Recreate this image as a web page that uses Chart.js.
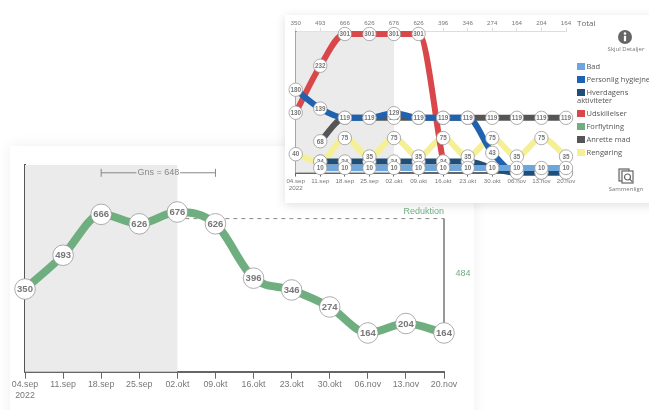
<!DOCTYPE html>
<html>
<head>
<meta charset="utf-8">
<script src="https://cdn.jsdelivr.net/npm/chart.js@4"></script>
<style>
  html, body { margin: 0; background: #fff; overflow: hidden; }
  body { width: 649px; height: 410px; position: relative; font-family: "Open Sans", sans-serif; color: #555; }
  .card { position: absolute; background: #fff; }
  #mainCard { left: 10px; top: 146px; width: 464px; height: 290px; box-shadow: 0 0 14px rgba(0,0,0,.07); }
  #detailCard { left: 285px; top: 15px; width: 380px; height: 188px; box-shadow: 0 2px 10px rgba(0,0,0,.13); }
  .wrap { position: absolute; }
  #mainWrap { left: 0; top: 130px; width: 480px; height: 280px; }
  #detailWrap { left: 285px; top: 10px; width: 305px; height: 195px; }
  .lg { position: absolute; left: 577px; font-size: 7.5px; line-height: 8px; white-space: nowrap; }
  .lg i { display: inline-block; width: 7.5px; height: 7.5px; margin-right: 2px; vertical-align: -1px; }
  .cap { position: absolute; font-size: 6px; text-align: center; width: 60px; left: 596px; color: #777; }
  #totalTxt { position: absolute; left: 577px; top: 17px; font-size: 8px; color: #666; }
  svg { position: absolute; }
</style>
</head>
<body>
<div class="card" id="mainCard"></div>
<div class="card" id="detailCard"></div>
<div class="wrap" id="mainWrap"><canvas id="mainChart"></canvas></div>
<div class="wrap" id="detailWrap"><canvas id="detailChart"></canvas></div>
<div id="totalTxt">Total</div>
<svg style="left:617px;top:29px" width="16" height="16"><circle cx="8" cy="8" r="7" fill="#666"/><circle cx="8" cy="4.5" r="1.3" fill="#fff"/><rect x="6.9" y="6.8" width="2.2" height="5.4" fill="#fff"/></svg>
<div class="cap" style="top:45px">Skjul Detaljer</div>
<svg style="left:618px;top:168px" width="17" height="17" fill="none" stroke="#666" stroke-width="1.2"><rect x="1" y="1" width="10" height="12" fill="#eee"/><rect x="4" y="3" width="11" height="12" fill="#fff"/><circle cx="9.5" cy="9" r="3"/><path d="M11.7 11.2l2.5 2.5"/></svg>
<div class="cap" style="top:185px">Sammenlign</div>
<div id="legend"></div>

<script>
const uger = ['04.sep','11.sep','18.sep','25.sep','02.okt','09.okt','16.okt','23.okt','30.okt','06.nov','13.nov','20.nov'];
const total = [350,493,666,626,676,626,396,346,274,164,204,164];
const gnsLinje = [null,null,null,null,648,648,648,648,648,648,648,648];

const bad = [null,10,10,10,10,10,10,10,10,10,10,10];
const hverdagens = [null,24,24,24,24,24,24,24,10,0,0,0];
const hygiejne = [180,139,119,119,129,119,119,119,43,0,0,0];
const udskillelser = [130,232,301,301,301,301,24,null,null,null,null,null];
const anrette = [null,68,119,119,119,119,119,119,119,119,119,119];
const rengoring = [40,24,75,35,75,35,75,35,75,35,75,35];

const legendNavne = ['Bad','Personlig hygiejne','Hverdagens aktiviteter','Udskillelser','Forflytning','Anrette mad','Rengøring'];
const legendFarver = ['#6ca6dc','#1f62b0','#1f4e79','#d9474a','#6faf7f','#555555','#f5f095'];
const legendTop = [62,75,88,109,122,135,148];

const font = '"Liberation Sans", Arial, sans-serif';
const tekstFarve = '#777';

// legend i html, den skal ombrydes som i originalen
legendNavne.forEach((n, i) => {
  const d = document.createElement('div');
  d.className = 'lg';
  d.style.top = legendTop[i] + 'px';
  const dele = n === 'Hverdagens aktiviteter' ? 'Hverdagens<br>aktiviteter' : n;
  d.innerHTML = '<i style="background:' + legendFarver[i] + '"></i>' + dele;
  legend.appendChild(d);
});

// graat felt for baseline perioden
const feltPlugin = {
  id: 'felt',
  beforeDatasetsDraw(chart) {
    const a = chart.chartArea, x = chart.scales.x, c = chart.ctx;
    c.save();
    c.fillStyle = '#ebebeb';
    c.fillRect(a.left, a.top, x.getPixelForValue(4) - a.left, a.bottom - a.top);
    c.restore();
  }
};

// cirkler med tal oven paa alle linjer
const cirkelPlugin = {
  id: 'cirkler',
  afterDatasetsDraw(chart, args, o) {
    const c = chart.ctx;
    o.raekkefolge.forEach(i => {
      const ds = chart.data.datasets[i];
      chart.getDatasetMeta(i).data.forEach((p, j) => {
        if (ds.data[j] === null) return;
        c.save();
        c.beginPath();
        c.arc(p.x, p.y, o.r, 0, Math.PI * 2);
        c.fillStyle = '#fff';
        c.fill();
        c.lineWidth = 0.8;
        c.strokeStyle = '#999';
        c.stroke();
        c.fillStyle = tekstFarve;
        c.font = 'bold ' + o.size + 'px ' + font;
        c.textAlign = 'center';
        c.textBaseline = 'middle';
        c.fillText(ds.data[j], p.x, p.y + 0.5);
        c.restore();
      });
    });
  }
};

// Gns klammen, reduktion og 484
const noterPlugin = {
  id: 'noter',
  afterDatasetsDraw(chart) {
    const c = chart.ctx, x = chart.scales.x, y = chart.scales.y;
    const x1 = x.getPixelForValue(2), x2 = x.getPixelForValue(5), xs = x.getPixelForValue(11);
    const yg = y.getPixelForValue(842);
    c.save();
    c.font = '9px ' + font;
    c.textAlign = 'center';
    c.textBaseline = 'middle';
    const t = 'Gns = 648', w = c.measureText(t).width / 2 + 1, m = (x1 + x2) / 2;
    c.strokeStyle = '#888';
    c.lineWidth = 1;
    c.beginPath();
    c.moveTo(x1, yg - 4); c.lineTo(x1, yg + 4);
    c.moveTo(x1, yg); c.lineTo(m - w, yg);
    c.moveTo(m + w, yg); c.lineTo(x2, yg);
    c.moveTo(x2, yg - 4); c.lineTo(x2, yg + 4);
    c.stroke();
    c.fillStyle = '#888';
    c.fillText(t, m, yg);
    c.fillStyle = '#6faf7f';
    c.font = '9px ' + font;
    c.textAlign = 'right';
    c.fillText('Reduktion', xs, y.getPixelForValue(677));
    c.textAlign = 'center';
    c.fillText('484', xs + 19, y.getPixelForValue(414));
    c.restore();
  }
};

// lodret streg fra 648 til 164 under cirklerne
const stregPlugin = {
  id: 'streg',
  beforeDatasetsDraw(chart) {
    const c = chart.ctx, x = chart.scales.x, y = chart.scales.y;
    c.save();
    c.strokeStyle = '#777';
    c.lineWidth = 1.5;
    c.beginPath();
    c.moveTo(x.getPixelForValue(11), y.getPixelForValue(648));
    c.lineTo(x.getPixelForValue(11), y.getPixelForValue(164));
    c.stroke();
    c.restore();
  }
};

function linje(label, data, farve, bredde) {
  return { label, data, borderColor: farve, borderWidth: bredde, pointRadius: 0, fill: false,
           cubicInterpolationMode: 'monotone', clip: false, borderCapStyle: 'butt' };
}

function xAkse(size, tick, pad, hoejde) {
  return {
    offset: false,
    grid: { drawOnChartArea: false, drawTicks: true, tickLength: tick, color: '#666', lineWidth: 1 },
    border: { color: '#666', width: 2 },
    ticks: {
      maxRotation: 0, minRotation: 0, autoSkip: false, padding: pad, color: tekstFarve,
      font: { family: font, size },
      callback(v, i) { return i === 0 ? [uger[i], '2022'] : uger[i]; }
    },
    afterFit(s) { s.height = hoejde; }
  };
}

function yAkse(max, farve) {
  return {
    min: 0, max,
    ticks: { display: false },
    grid: { drawOnChartArea: false, drawTicks: false },
    border: { color: farve, width: 2 },
    afterFit(s) { s.width = 0; }
  };
}

Chart.defaults.animation = false;
Chart.defaults.responsive = true;
Chart.defaults.maintainAspectRatio = false;

new Chart('mainChart', {
  type: 'line',
  data: {
    labels: uger,
    datasets: [
      linje('Total', total, '#6faf7f', 8),
      Object.assign(linje('Gns', gnsLinje, '#888', 1), { borderDash: [4, 4], cubicInterpolationMode: 'default', tension: 0 })
    ]
  },
  options: {
    layout: { padding: { left: 25, right: 36, top: 35, bottom: 0 } },
    plugins: { legend: { display: false }, tooltip: { enabled: false },
      cirkler: { raekkefolge: [0], r: 10.3, size: 9.5 } },
    scales: { x: xAkse(8.8, 7, 1, 38.3), y: yAkse(875, '#555') }
  },
  plugins: [feltPlugin, stregPlugin, cirkelPlugin, noterPlugin]
});

new Chart('detailChart', {
  type: 'line',
  data: {
    labels: uger,
    datasets: [
      linje('Bad', bad, legendFarver[0], 6),
      linje('Hverdagens aktiviteter', hverdagens, legendFarver[2], 6),
      linje('Personlig hygiejne', hygiejne, legendFarver[1], 6),
      linje('Udskillelser', udskillelser, legendFarver[3], 6),
      linje('Anrette mad', anrette, legendFarver[5], 6),
      linje('Rengøring', rengoring, legendFarver[6], 6)
    ]
  },
  options: {
    layout: { padding: { left: 10.7, right: 24, top: 0, bottom: 0 } },
    plugins: { legend: { display: false }, tooltip: { enabled: false },
      cirkler: { raekkefolge: [3, 4, 2, 1, 5, 0], r: 6.7, size: 6.3 } },
    scales: {
      x: xAkse(6.2, 4, 1, 32.4),
      x2: {
        type: 'category', position: 'top', labels: total.map(String), offset: false,
        grid: { drawOnChartArea: false, drawTicks: true, tickLength: 4, color: '#ddd' },
        border: { color: '#ddd', width: 1 },
        ticks: { maxRotation: 0, autoSkip: false, padding: 1, color: tekstFarve, font: { family: font, size: 6.2 } },
        afterFit(s) { s.height = 21.7; }
      },
      y: yAkse(306, '#888')
    }
  },
  plugins: [feltPlugin, cirkelPlugin]
});
</script>
</body>
</html>
